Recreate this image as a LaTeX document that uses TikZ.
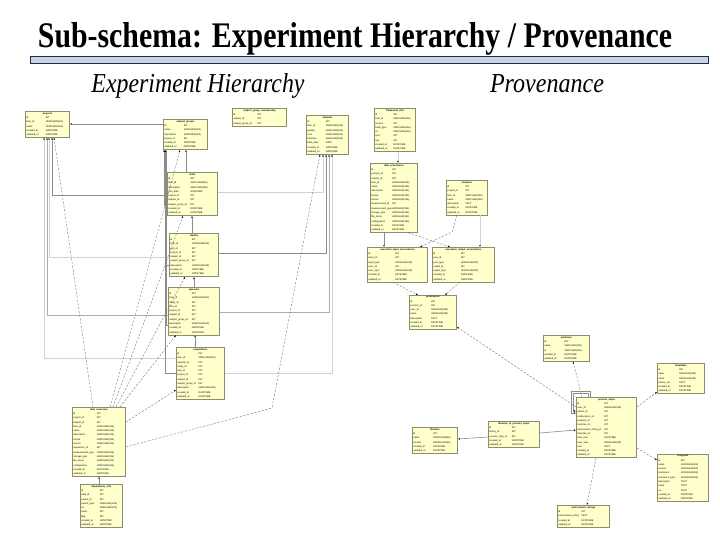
\documentclass[tikz,border=0pt]{standalone}
\usepackage{fontspec}
\setmainfont{Liberation Serif}
\setsansfont{Liberation Sans}
\usepackage{graphicx}
\usepackage{tikz}
\usetikzlibrary{positioning,arrows.meta,shadows}
\definecolor{tabfill}{RGB}{255,255,204}
\definecolor{tabline}{RGB}{140,140,110}
\definecolor{barfill}{RGB}{200,212,228}
\definecolor{barline}{RGB}{30,40,75}
\newcommand{\dbhead}[1]{\hbox to\linewidth{\hss\bfseries #1\hss}}
\newcommand{\dbrow}[2]{\hbox to\linewidth{\makebox[0.46\linewidth][l]{#1}#2\hss}}

\begin{document}
\begin{tikzpicture}[
  x=1pt, y=-1pt,
  dbtab/.style={draw=tabline, fill=tabfill, line width=0.5pt, anchor=north west, inner sep=1.2pt,
    font=\sffamily\fontsize{2.4}{4.3}\selectfont,
    drop shadow={shadow xshift=0.8pt, shadow yshift=-0.8pt, fill=black!55}},
  fk/.style={draw=black!45, line width=0.6pt, -{Latex[length=2pt,width=1.6pt,color=black]}},
  fkmid/.style={fk, draw=black!32},
  fkpale/.style={fk, draw=black!18},
  dep/.style={draw=black!60, line width=0.35pt, dash pattern=on 2.2pt off 1.6pt, -{Latex[length=2pt,width=1.6pt,color=black]}},
]
\useasboundingbox (0,0) rectangle (720,540);
\node[anchor=base, inner sep=0] (title) at (355,48) {\resizebox{634pt}{25pt}{\bfseries Sub-schema: Experiment Hierarchy / Provenance}};
\filldraw[fill=barfill, draw=barline, line width=0.8pt] (30,56) rectangle (708,63);
\node[anchor=base, inner sep=0] (hier) at (198,93) {\resizebox{213pt}{19pt}{\itshape Experiment Hierarchy}};
\node[anchor=base, inner sep=0] (prov) at (547,93) {\resizebox{114pt}{18pt}{\itshape Provenance}};

% experiment hierarchy
\node[dbtab, text width=42pt] (projects) at (25,111) {\dbhead{projects}
  \dbrow{id}{INT}
  \dbrow{lmer\_id}{VARCHAR(255)}
  \dbrow{name}{VARCHAR(255)}
  \dbrow{created\_at}{DATETIME}
  \dbrow{updated\_at}{DATETIME}};
\node[dbtab, text width=42pt] (sgroups) at (163,119) {\dbhead{subject\_groups}
  \dbrow{id}{INT}
  \dbrow{name}{VARCHAR(255)}
  \dbrow{description}{VARCHAR(255)}
  \dbrow{project\_id}{INT}
  \dbrow{created\_at}{DATETIME}
  \dbrow{updated\_at}{DATETIME}};
\node[dbtab, text width=52pt] (sgmember) at (232,108) {\dbhead{subject\_group\_membership}
  \dbrow{id}{INT}
  \dbrow{subject\_id}{INT}
  \dbrow{subject\_group\_id}{INT}};
\node[dbtab, text width=40pt] (subjects) at (306,115) {\dbhead{subjects}
  \dbrow{id}{INT}
  \dbrow{lmer\_id}{VARCHAR(255)}
  \dbrow{gender}{VARCHAR(255)}
  \dbrow{race}{VARCHAR(255)}
  \dbrow{ethnicity}{VARCHAR(255)}
  \dbrow{birth\_date}{DATE}
  \dbrow{created\_at}{DATETIME}
  \dbrow{updated\_at}{DATETIME}};
\node[dbtab, text width=48pt] (visits) at (167,172) {\dbhead{visits}
  \dbrow{id}{INT}
  \dbrow{lmer\_id}{VARCHAR(255)}
  \dbrow{description}{VARCHAR(255)}
  \dbrow{visit\_date}{DATETIME}
  \dbrow{project\_id}{INT}
  \dbrow{subject\_id}{INT}
  \dbrow{subject\_group\_id}{INT}
  \dbrow{created\_at}{DATETIME}
  \dbrow{updated\_at}{DATETIME}};
\node[dbtab, text width=47pt] (studies) at (169,233) {\dbhead{studies}
  \dbrow{id}{INT}
  \dbrow{lmer\_id}{VARCHAR(255)}
  \dbrow{visit\_id}{INT}
  \dbrow{project\_id}{INT}
  \dbrow{subject\_id}{INT}
  \dbrow{subject\_group\_id}{INT}
  \dbrow{description}{VARCHAR(255)}
  \dbrow{created\_at}{DATETIME}
  \dbrow{updated\_at}{DATETIME}};
\node[dbtab, text width=49pt] (episodes) at (168,287) {\dbhead{episodes}
  \dbrow{id}{INT}
  \dbrow{lmer\_id}{VARCHAR(255)}
  \dbrow{study\_id}{INT}
  \dbrow{visit\_id}{INT}
  \dbrow{project\_id}{INT}
  \dbrow{subject\_id}{INT}
  \dbrow{subject\_group\_id}{INT}
  \dbrow{description}{VARCHAR(255)}
  \dbrow{created\_at}{DATETIME}
  \dbrow{updated\_at}{DATETIME}};
\node[dbtab, text width=46pt] (acquis) at (176,347) {\dbhead{acquisitions}
  \dbrow{id}{INT}
  \dbrow{lmer\_id}{VARCHAR(255)}
  \dbrow{episode\_id}{INT}
  \dbrow{study\_id}{INT}
  \dbrow{visit\_id}{INT}
  \dbrow{project\_id}{INT}
  \dbrow{subject\_id}{INT}
  \dbrow{subject\_group\_id}{INT}
  \dbrow{description}{VARCHAR(255)}
  \dbrow{created\_at}{DATETIME}
  \dbrow{updated\_at}{DATETIME}};
\node[dbtab, text width=51pt] (datares) at (72,407) {\dbhead{data\_resources}
  \dbrow{id}{INT}
  \dbrow{project\_id}{INT}
  \dbrow{subject\_id}{INT}
  \dbrow{lmer\_id}{VARCHAR(255)}
  \dbrow{name}{VARCHAR(255)}
  \dbrow{description}{VARCHAR(255)}
  \dbrow{format}{VARCHAR(255)}
  \dbrow{source}{VARCHAR(255)}
  \dbrow{acquisition\_id}{INT}
  \dbrow{measurement\_type}{VARCHAR(255)}
  \dbrow{storage\_type}{VARCHAR(255)}
  \dbrow{file\_name}{VARCHAR(255)}
  \dbrow{configuration}{VARCHAR(255)}
  \dbrow{created\_at}{DATETIME}
  \dbrow{updated\_at}{DATETIME}};
\node[dbtab, text width=40pt] (depinfo) at (80,484) {\dbhead{dependency\_info}
  \dbrow{id}{INT}
  \dbrow{data\_id}{INT}
  \dbrow{parent\_id}{INT}
  \dbrow{parent\_type}{VARCHAR(255)}
  \dbrow{uri}{VARCHAR(255)}
  \dbrow{value}{INT}
  \dbrow{flag}{INT}
  \dbrow{created\_at}{DATETIME}
  \dbrow{updated\_at}{DATETIME}};

\draw[fk] (sgroups.west |- 0,124) -- (projects.east |- 0,124);
\draw[fk] (visits.west |- 0,195) -| (projects.south -| 52,0);
\draw[fkpale] (studies.west |- 0,257) -| (projects.south -| 49,0);
\draw[fkmid] (episodes.west |- 0,315) -| (projects.south -| 47,0);
\draw[fkpale] (acquis.west |- 0,358) -| (projects.south -| 44,0);
\draw[fk] (visits.west |- 0,205) -| (sgroups.south -| 164,0);
\draw[fk] (studies.west |- 0,265) -| (sgroups.south -| 165,0);
\draw[fk] (episodes.west |- 0,325) -| (sgroups.south -| 166,0);
\draw[fk] (acquis.west |- 0,373) -| (sgroups.south -| 165,0);
\draw[fk] (visits.north -| 186,0) -- (sgroups.south -| 186,0);
\draw[fk] (studies.north -| 192,0) -- (visits.south -| 192,0);
\draw[fk] (episodes.north -| 194,0) -- (studies.south -| 194,0);
\draw[fk] (acquis.north -| 195,0) -- (episodes.south -| 195,0);
\draw[fkpale] (visits.east |- 0,192) -| (subjects.south -| 323,0);
\draw[fk] (studies.east |- 0,253) -| (subjects.south -| 326,0);
\draw[fkmid] (episodes.east |- 0,312) -| (subjects.south -| 329,0);
\draw[fkpale] (acquis.east |- 0,373) -| (subjects.south -| 332,0);
\draw[dep] (datares.north -| 93,0) -- (projects.south -| 54,0);
\draw[dep] (datares.north -| 110,0) -- (sgroups.south -| 180,0);
\draw[dep] (datares.north -| 113,0) -- (visits.south -| 183,0);
\draw[dep] (datares.north -| 116,0) -- (studies.south -| 185,0);
\draw[dep] (datares.north -| 120,0) -- (episodes.south -| 176,0);
\draw[dep] (datares.east |- 0,422) -- (acquis.west |- 0,390);
\draw[dep] (datares.east |- 0,447) -- (272,408) -- (subjects.south -| 320,0);
\draw[fk] (depinfo.north -| 99,0) -- (datares.south -| 99,0);

% provenance
\node[dbtab, text width=39pt] (framework) at (374,108) {\dbhead{framework\_info}
  \dbrow{id}{INT}
  \dbrow{host\_id}{VARCHAR(255)}
  \dbrow{version}{INT}
  \dbrow{build\_type}{VARCHAR(255)}
  \dbrow{os}{VARCHAR(255)}
  \dbrow{arch}{INT}
  \dbrow{cpu}{INT}
  \dbrow{created\_at}{DATETIME}
  \dbrow{updated\_at}{DATETIME}};
\node[dbtab, text width=45pt] (dataprov) at (370,163) {\dbhead{data\_provenance}
  \dbrow{id}{INT}
  \dbrow{process\_id}{INT}
  \dbrow{subject\_id}{INT}
  \dbrow{lmer\_id}{VARCHAR(255)}
  \dbrow{name}{VARCHAR(255)}
  \dbrow{description}{VARCHAR(255)}
  \dbrow{format}{VARCHAR(255)}
  \dbrow{source}{VARCHAR(255)}
  \dbrow{measurement\_id}{INT}
  \dbrow{measurement\_type}{VARCHAR(255)}
  \dbrow{storage\_type}{VARCHAR(255)}
  \dbrow{file\_name}{VARCHAR(255)}
  \dbrow{configuration}{VARCHAR(255)}
  \dbrow{created\_at}{DATETIME}
  \dbrow{updated\_at}{DATETIME}};
\node[dbtab, text width=39pt] (analyses) at (446,180) {\dbhead{analyses}
  \dbrow{id}{INT}
  \dbrow{project\_id}{INT}
  \dbrow{lmer\_id}{VARCHAR(255)}
  \dbrow{name}{VARCHAR(255)}
  \dbrow{description}{TEXT}
  \dbrow{created\_at}{DATETIME}
  \dbrow{updated\_at}{DATETIME}};
\node[dbtab, text width=58pt] (execin) at (367,247) {\dbhead{execution\_input\_associations}
  \dbrow{id}{INT}
  \dbrow{input\_id}{INT}
  \dbrow{input\_type}{VARCHAR(255)}
  \dbrow{exec\_id}{INT}
  \dbrow{exec\_type}{VARCHAR(255)}
  \dbrow{created\_at}{DATETIME}
  \dbrow{updated\_at}{DATETIME}};
\node[dbtab, text width=60pt] (execout) at (432,247) {\dbhead{execution\_output\_associations}
  \dbrow{id}{INT}
  \dbrow{prov\_id}{INT}
  \dbrow{prov\_type}{VARCHAR(255)}
  \dbrow{output\_id}{INT}
  \dbrow{output\_type}{VARCHAR(255)}
  \dbrow{created\_at}{DATETIME}
  \dbrow{updated\_at}{DATETIME}};
\node[dbtab, text width=45pt] (provenance) at (409,295) {\dbhead{provenance}
  \dbrow{id}{INT}
  \dbrow{process\_id}{INT}
  \dbrow{exec\_id}{VARCHAR(255)}
  \dbrow{name}{VARCHAR(255)}
  \dbrow{description}{TEXT}
  \dbrow{created\_at}{DATETIME}
  \dbrow{updated\_at}{DATETIME}};
\node[dbtab, text width=44pt] (machines) at (543,335) {\dbhead{machines}
  \dbrow{id}{INT}
  \dbrow{name}{VARCHAR(255)}
  \dbrow{ip}{VARCHAR(255)}
  \dbrow{created\_at}{DATETIME}
  \dbrow{updated\_at}{DATETIME}};
\node[dbtab, text width=45pt] (templates) at (657,363) {\dbhead{templates}
  \dbrow{id}{INT}
  \dbrow{name}{VARCHAR(255)}
  \dbrow{value}{VARCHAR(255)}
  \dbrow{param\_val}{TEXT}
  \dbrow{created\_at}{DATETIME}
  \dbrow{updated\_at}{DATETIME}};
\node[dbtab, text width=58pt] (psteps) at (576,397) {\dbhead{process\_steps}
  \dbrow{id}{INT}
  \dbrow{exec\_id}{VARCHAR(255)}
  \dbrow{parent\_id}{INT}
  \dbrow{predecessor\_id}{INT}
  \dbrow{program\_id}{INT}
  \dbrow{machine\_id}{INT}
  \dbrow{environment\_string\_id}{INT}
  \dbrow{template\_id}{INT}
  \dbrow{start\_time}{DATETIME}
  \dbrow{exec\_user}{VARCHAR(255)}
  \dbrow{cwd}{TEXT}
  \dbrow{created\_at}{DATETIME}
  \dbrow{updated\_at}{DATETIME}};
\node[dbtab, text width=49pt] (programs) at (657,454) {\dbhead{programs}
  \dbrow{id}{INT}
  \dbrow{name}{VARCHAR(255)}
  \dbrow{version}{VARCHAR(255)}
  \dbrow{checksum}{VARCHAR(255)}
  \dbrow{checksum\_type}{VARCHAR(255)}
  \dbrow{description}{TEXT}
  \dbrow{notes}{TEXT}
  \dbrow{url}{TEXT}
  \dbrow{created\_at}{DATETIME}
  \dbrow{updated\_at}{DATETIME}};
\node[dbtab, text width=50pt] (envstr) at (557,505) {\dbhead{environment\_strings}
  \dbrow{id}{INT}
  \dbrow{environment\_string}{TEXT}
  \dbrow{created\_at}{DATETIME}
  \dbrow{updated\_at}{DATETIME}};
\node[dbtab, text width=43pt] (libraries) at (412,427) {\dbhead{libraries}
  \dbrow{id}{INT}
  \dbrow{name}{VARCHAR(255)}
  \dbrow{version}{VARCHAR(255)}
  \dbrow{created\_at}{DATETIME}
  \dbrow{updated\_at}{DATETIME}};
\node[dbtab, text width=49pt] (lib2ps) at (488,421) {\dbhead{libraries\_to\_process\_steps}
  \dbrow{id}{INT}
  \dbrow{library\_id}{INT}
  \dbrow{process\_step\_id}{INT}
  \dbrow{created\_at}{DATETIME}
  \dbrow{updated\_at}{DATETIME}};

\draw[fkpale] (framework.south -| 398,0) -- (dataprov.north -| 398,0);
\draw[fk] (dataprov.south -| 384,0) -- (execin.north -| 384,0);
\draw[dep] (dataprov.south -| 408,0) -- (execout.north -| 450,0);
\draw[dep] (analyses.south -| 457,0) -- (452,232) -- (execin.north -| 420,0);
\draw[fkpale] (analyses.south -| 480,0) -- (execout.north -| 480,0);
\draw[dep] (execin.south -| 393,0) -- (provenance.north -| 418,0);
\draw[dep] (execout.south -| 460,0) -- (provenance.north -| 445,0);
\draw[dep] (psteps.west |- 0,407) -- (provenance.east |- 0,327);
\draw[dep] (psteps.north -| 582,0) -- (machines.south -| 573,0);
\draw[fk] (psteps.north -| 590,0) |- (571,391) |- (psteps.west |- 0,413);
\draw[fk] (psteps.north -| 588,0) |- (573,393) |- (psteps.west |- 0,411);
\draw[dep] (psteps.east |- 0,407) -- (templates.west |- 0,392);
\draw[dep] (psteps.east |- 0,448) -- (programs.west |- 0,460);
\draw[dep] (psteps.south -| 596,0) -- (envstr.north -| 587,0);
\draw[fk] (lib2ps.east |- 0,433) -- (psteps.west |- 0,430);
\draw[fk] (lib2ps.west |- 0,437) -- (libraries.east |- 0,439);
\end{tikzpicture}
\end{document}
